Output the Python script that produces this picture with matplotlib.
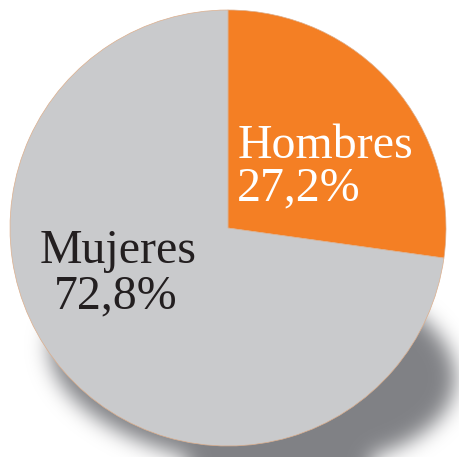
import numpy as np
import matplotlib.pyplot as plt

# data
labels = ['Hombres', 'Mujeres']
shares = [27.2, 72.8]
pct_text = ['27,2%', '72,8%']
colors = ['#f47f24', '#c9cacc']

W, H = 459, 457
cx, cy, r = 228, 228, 218   # pixel coords (y down)

fig = plt.figure(figsize=(W / 100, H / 100), dpi=100)
ax = fig.add_axes([0, 0, 1, 1])

# soft cast shadow: blurred, flattened ellipse below and right of the pie
yy, xx = np.mgrid[0:H, 0:W].astype(float)
th = np.deg2rad(6)
u = (xx - 252) * np.cos(th) + (yy - 362) * np.sin(th)
v = -(xx - 252) * np.sin(th) + (yy - 362) * np.cos(th)
mask = ((u / 204) ** 2 + (v / 104) ** 2 <= 1).astype(float)
sig = 10.0
k = np.arange(-35, 36)
g = np.exp(-k ** 2 / (2 * sig ** 2))
g /= g.sum()
pad = 45
mp = np.pad(mask, pad, mode='edge')
mp = np.apply_along_axis(lambda s: np.convolve(s, g, mode='same'), 0, mp)
mp = np.apply_along_axis(lambda s: np.convolve(s, g, mode='same'), 1, mp)
mask = mp[pad:-pad, pad:-pad]
rgba = np.zeros((H, W, 4))
rgba[..., :3] = np.array([0x80, 0x81, 0x85]) / 255
rgba[..., 3] = mask
ax.imshow(rgba, extent=(0, W, 0, H), origin='upper', zorder=0)

wedges, _ = ax.pie(shares, colors=colors, startangle=90, counterclock=False,
                   center=(cx, H - cy), radius=r, frame=True,
                   wedgeprops=dict(edgecolor='#dcae8c', linewidth=0.5))
for w in wedges:
    w.set_zorder(2)

ax.set_xlim(0, W)
ax.set_ylim(0, H)
ax.set_aspect('equal')
ax.axis('off')

font = dict(family='Liberation Serif', fontsize=34.5)
ax.text(238, H - 158, labels[0], color='white', ha='left', va='baseline', zorder=3, **font)
ax.text(237, H - 200, pct_text[0], color='white', ha='left', va='baseline', zorder=3, **font)
ax.text(118, H - 263, labels[1], color='#231f20', ha='center', va='baseline', zorder=3, **font)
ax.text(116, H - 308, pct_text[1], color='#231f20', ha='center', va='baseline', zorder=3, **font)

fig.savefig('out.png', dpi=100)
